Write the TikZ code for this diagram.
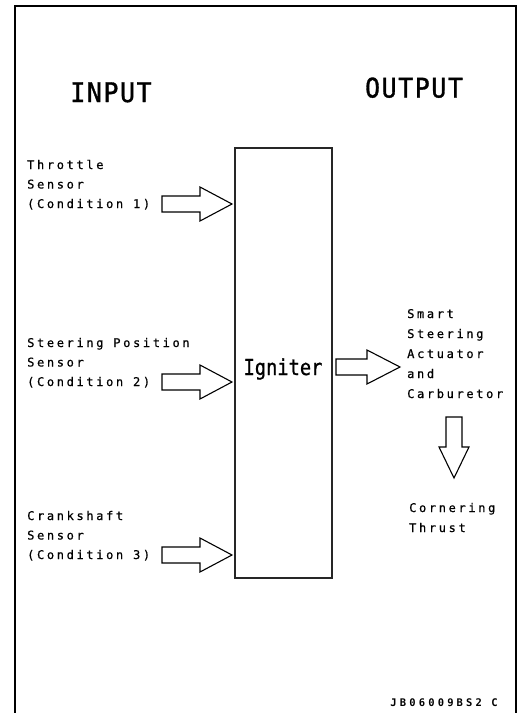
\documentclass[tikz,border=0pt]{standalone}
\usepackage{fontspec}
\newfontfamily\smfont{DejaVu Sans Mono}[LetterSpace=22,FakeBold=0.6]
\newfontfamily\bigfont{DejaVu Sans Mono}[LetterSpace=6,FakeStretch=0.92,FakeBold=1.2]
\newfontfamily\igfont{DejaVu Sans Mono}[FakeStretch=0.85,FakeBold=0.8]
\newfontfamily\codefont{DejaVu Sans Mono Bold}[LetterSpace=30]
\tikzset{
  frameline/.style={line width=2.4pt, black},
  boxline/.style={line width=1.5pt, black!85},
  arrowline/.style={line width=1.1pt, black, fill=white, line join=miter},
  lbl/.style={inner sep=0pt, anchor=base west, font=\smfont\fontsize{12}{14}\selectfont},
  head/.style={inner sep=0pt, anchor=base, font=\bigfont\fontsize{27}{30}\selectfont},
}
\newcommand{\rarrowshape}[4]{% shaft start, head start, tip, centre y
  \draw[arrowline] (#1,#4-8) -- (#2,#4-8) -- (#2,#4-17) -- (#3,#4)
    -- (#2,#4+17) -- (#2,#4+8) -- (#1,#4+8) -- cycle;}
\begin{document}
\begin{tikzpicture}[x=1pt,y=-1pt]
\useasboundingbox (0,0) rectangle (522,713);
% frame (open at bottom)
\draw[frameline] (15,714) -- (15,6) -- (516,6) -- (516,714);
% headings
\node[head] (inp) at (111,102) {INPUT};
\node[head] (outp) at (414,97.5) {OUTPUT};
% igniter box
\node[draw, boxline, minimum width=97pt, minimum height=430pt, inner sep=0pt] (ign) at (283.5,363) {};
\node[inner sep=0pt, anchor=base, font=\igfont\fontsize{22}{26}\selectfont] (igt) at (283,375) {Igniter};
% left labels
\node[lbl] (t1) at (27,169) {Throttle};
\node[lbl] (t2) at (27,188.5) {Sensor};
\node[lbl] (t3) at (27,208) {(Condition 1)};
\node[lbl] (s1) at (27,347) {Steering Position};
\node[lbl] (s2) at (27,366.5) {Sensor};
\node[lbl] (s3) at (27,386) {(Condition 2)};
\node[lbl] (c1) at (27,520) {Crankshaft};
\node[lbl] (c2) at (27,539.5) {Sensor};
\node[lbl] (c3) at (27,559) {(Condition 3)};
% input arrows
\rarrowshape{162}{200}{232}{204}
\rarrowshape{162}{200}{232}{382}
\rarrowshape{162}{200}{232}{555}
% output arrow
\rarrowshape{336}{367}{400}{367}
% right labels
\node[lbl] (o1) at (407,318) {Smart};
\node[lbl] (o2) at (407,338) {Steering};
\node[lbl] (o3) at (407,358) {Actuator};
\node[lbl] (o4) at (407,378) {and};
\node[lbl] (o5) at (407,398) {Carburetor};
% down arrow
\draw[arrowline] (446,417) -- (462,417) -- (462,447) -- (469,447) -- (454,478)
  -- (439,447) -- (446,447) -- cycle;
\node[lbl] (r1) at (409,512) {Cornering};
\node[lbl] (r2) at (409,532) {Thrust};
% code
\node[inner sep=0pt, anchor=base east, font=\codefont\fontsize{10.5}{12}\selectfont] (code) at (498,706) {JB06009BS2 C};
\end{tikzpicture}
\end{document}
